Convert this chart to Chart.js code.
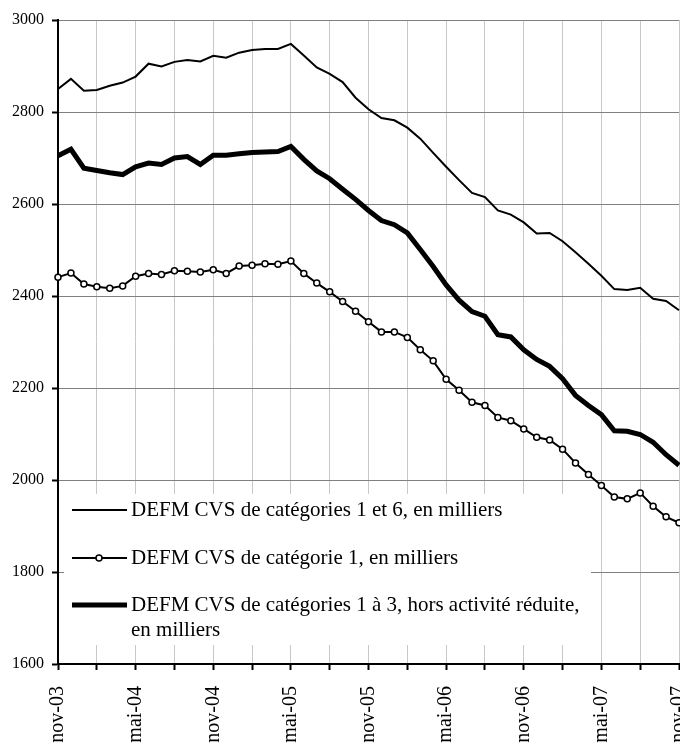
<!doctype html>
<html>

<head>
    <title>DEFM CVS</title>
    <script src="https://cdn.jsdelivr.net/npm/chart.js"></script>
</head>

<style>
    body {
        margin: 0;
        background: #fff;
    }

    #box {
        width: 680px;
        height: 744px;
    }
</style>

<body>

    <div id="box">
        <canvas id="defm" width="680" height="744"></canvas>
    </div>

    <script>

        // mois de nov-03 à nov-07
        var mois = ['nov-03', 'déc-03', 'janv-04', 'févr-04', 'mars-04', 'avr-04', 'mai-04', 'juin-04', 'juil-04', 'août-04', 'sept-04', 'oct-04',
            'nov-04', 'déc-04', 'janv-05', 'févr-05', 'mars-05', 'avr-05', 'mai-05', 'juin-05', 'juil-05', 'août-05', 'sept-05', 'oct-05',
            'nov-05', 'déc-05', 'janv-06', 'févr-06', 'mars-06', 'avr-06', 'mai-06', 'juin-06', 'juil-06', 'août-06', 'sept-06', 'oct-06',
            'nov-06', 'déc-06', 'janv-07', 'févr-07', 'mars-07', 'avr-07', 'mai-07', 'juin-07', 'juil-07', 'août-07', 'sept-07', 'oct-07',
            'nov-07'];

        var cat1et6 = [2850, 2872, 2846, 2848, 2857, 2864, 2877, 2905, 2899, 2909, 2913, 2910,
            2922, 2918, 2929, 2935, 2937, 2937, 2948, 2923, 2897, 2883, 2865, 2831,
            2806, 2787, 2782, 2766, 2742, 2711, 2681, 2652, 2624, 2615, 2586, 2577,
            2560, 2536, 2537, 2519, 2495, 2470, 2444, 2415, 2413, 2418, 2394, 2389,
            2369];

        var cat1 = [2441, 2450, 2426, 2420, 2417, 2422, 2443, 2449, 2447, 2455, 2454, 2452,
            2457, 2449, 2465, 2467, 2470, 2469, 2476, 2449, 2428, 2409, 2388, 2367,
            2344, 2322, 2322, 2310, 2283, 2259, 2219, 2195, 2169, 2162, 2136, 2129,
            2111, 2093, 2087, 2067, 2037, 2012, 1988, 1963, 1959, 1972, 1943, 1920,
            1907];

        var cat1a3 = [2705, 2719, 2678, 2673, 2668, 2664, 2681, 2689, 2686, 2700, 2703, 2686,
            2706, 2706, 2709, 2712, 2713, 2714, 2725, 2697, 2672, 2655, 2632, 2610,
            2586, 2564, 2555, 2537, 2501, 2464, 2424, 2391, 2366, 2356, 2316, 2311,
            2283, 2262, 2247, 2220, 2184, 2162, 2142, 2107, 2106, 2099, 2082, 2055,
            2032];

        var legende = [
            ['DEFM CVS de catégories 1 et 6, en milliers'],
            ['DEFM CVS de catégorie 1, en milliers'],
            ['DEFM CVS de catégories 1 à 3, hors activité réduite,', 'en milliers']
        ];

        var police = 'Liberation Serif, Times New Roman, serif';

        // légende dessinée dans la zone du graphique (boite blanche)
        var legendeBoite = {
            id: 'legendeBoite',
            beforeDatasetsDraw(chart) {
                var ctx = chart.ctx;
                var a = chart.chartArea;
                ctx.save();
                ctx.fillStyle = '#fff';
                ctx.fillRect(a.left + 6, 494, 527, 151);

                var lignesY = [510, 558, 605];
                chart.data.datasets.forEach((ds, i) => {
                    var y = lignesY[i];
                    ctx.strokeStyle = '#000';
                    ctx.lineWidth = ds.borderWidth;
                    ctx.beginPath();
                    ctx.moveTo(a.left + 14, y);
                    ctx.lineTo(a.left + 69, y);
                    ctx.stroke();
                    if (ds.pointRadius > 0) {
                        ctx.beginPath();
                        ctx.arc(a.left + 41, y, ds.pointRadius, 0, Math.PI * 2);
                        ctx.fillStyle = '#fff';
                        ctx.fill();
                        ctx.lineWidth = ds.pointBorderWidth;
                        ctx.stroke();
                    }
                    ctx.fillStyle = '#000';
                    ctx.font = '21px ' + police;
                    ctx.textBaseline = 'middle';
                    legende[i].forEach((t, k) => {
                        ctx.fillText(t, a.left + 73, y + k * 25);
                    });
                });
                ctx.restore();
            }
        };

        var graphique = new Chart(document.getElementById('defm').getContext('2d'), {
            type: 'line',
            data: {
                labels: mois,
                datasets: [{
                    label: legende[0][0],
                    data: cat1et6,
                    borderColor: '#000',
                    borderWidth: 2,
                    pointRadius: 0
                }, {
                    label: legende[1][0],
                    data: cat1,
                    borderColor: '#000',
                    borderWidth: 2,
                    pointRadius: 3,
                    pointBorderWidth: 1.5,
                    pointBackgroundColor: '#fff',
                    pointBorderColor: '#000'
                }, {
                    label: legende[2].join(' '),
                    data: cat1a3,
                    borderColor: '#000',
                    borderWidth: 5,
                    pointRadius: 0
                }]
            },
            options: {
                responsive: false,
                animation: false,
                layout: {
                    autoPadding: false,
                    padding: { top: 20, right: 1, left: 0, bottom: 0 }
                },
                plugins: {
                    legend: { display: false },
                    tooltip: { enabled: false }
                },
                elements: {
                    line: { tension: 0 }
                },
                scales: {
                    x: {
                        afterFit(scale) {
                            scale.height = 80;
                            scale.paddingLeft = 0;
                            scale.paddingRight = 0;
                        },
                        grid: {
                            color: (c) => c.index % 3 == 0 ? '#c8c8c8' : 'rgba(0,0,0,0)',
                            tickColor: (c) => c.index % 3 == 0 ? '#000' : 'rgba(0,0,0,0)',
                            tickLength: 6,
                            tickWidth: 2
                        },
                        border: {
                            color: '#000',
                            width: 2
                        },
                        ticks: {
                            autoSkip: false,
                            minRotation: 90,
                            maxRotation: 90,
                            padding: 16,
                            color: '#000',
                            font: { family: police, size: 20 },
                            callback: function (v, i) {
                                return i % 6 == 0 ? mois[i] : '';
                            }
                        }
                    },
                    y: {
                        min: 1600,
                        max: 3000,
                        afterFit(scale) {
                            scale.width = 58;
                            scale.paddingTop = 0;
                            scale.paddingBottom = 0;
                        },
                        grid: {
                            color: '#808080',
                            tickColor: '#000',
                            tickLength: 6,
                            tickWidth: 2
                        },
                        border: {
                            color: '#000',
                            width: 2
                        },
                        ticks: {
                            stepSize: 200,
                            padding: 8,
                            color: '#000',
                            font: { family: police, size: 16 },
                            callback: (v) => String(v)
                        }
                    }
                }
            },
            plugins: [legendeBoite]
        });

    </script>
</body>

</html>
